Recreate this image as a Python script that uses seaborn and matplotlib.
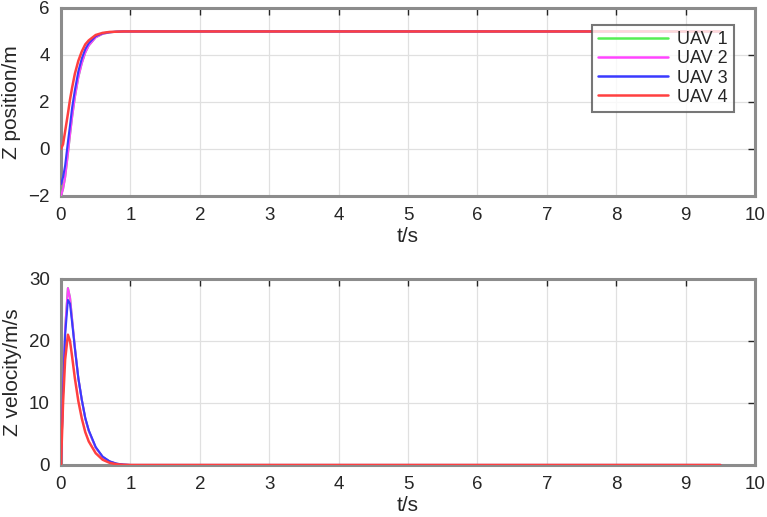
import matplotlib
matplotlib.use("Agg")
import matplotlib.pyplot as plt
import pandas as pd
import seaborn as sns

# time samples (s)
T = [0, 0.03, 0.06, 0.1, 0.13, 0.16, 0.2, 0.25, 0.3, 0.35, 0.4, 0.5, 0.6,
     0.7, 0.8, 0.9, 1.0, 1.5, 9.5]

# Z position (m)
Z1 = [-2, -1.7, -1.2, -0.2, 0.6, 1.35, 2.2, 3.05, 3.65, 4.1, 4.4, 4.75, 4.9,
      4.96, 4.99, 5.0, 5.0, 5.0, 5.0]
Z2 = [-2, -1.7, -1.2, -0.2, 0.6, 1.35, 2.2, 3.05, 3.65, 4.1, 4.4, 4.75, 4.9,
      4.96, 4.99, 5.0, 5.0, 5.0, 5.0]
Z3 = [-1.5, -1.2, -0.7, 0.3, 1.0, 1.75, 2.5, 3.3, 3.85, 4.25, 4.5, 4.8, 4.92,
      4.97, 4.99, 5.0, 5.0, 5.0, 5.0]
Z4 = [0, 0.2, 0.75, 1.5, 2.1, 2.6, 3.2, 3.75, 4.15, 4.45, 4.62, 4.85, 4.94,
      4.98, 4.99, 5.0, 5.0, 5.0, 5.0]

# Z velocity (m/s)
V1 = [0, 12, 22, 28.5, 27, 23.5, 19, 14, 10.5, 7.5, 5.5, 2.8, 1.3, 0.55,
      0.2, 0.05, 0, 0, 0]
V2 = [0, 12, 22, 28.5, 27, 23.5, 19, 14, 10.5, 7.5, 5.5, 2.8, 1.3, 0.55,
      0.2, 0.05, 0, 0, 0]
V3 = [0, 12, 21, 26.6, 26, 23, 18.8, 14, 10.5, 7.6, 5.6, 2.9, 1.35, 0.6,
      0.22, 0.06, 0, 0, 0]
V4 = [0, 10, 17, 21, 20, 17.5, 14, 10.3, 7.5, 5.3, 3.8, 1.9, 0.85, 0.35,
      0.12, 0.03, 0, 0, 0]

NAMES = ["UAV 1", "UAV 2", "UAV 3", "UAV 4"]
COLORS = ["#55ee55", "#ff44ff", "#3a3aff", "#ff4040"]

pos = pd.DataFrame([(t, z, n) for n, zs in zip(NAMES, [Z1, Z2, Z3, Z4])
                    for t, z in zip(T, zs)], columns=["t", "z", "uav"])
vel = pd.DataFrame([(t, v, n) for n, vs in zip(NAMES, [V1, V2, V3, V4])
                    for t, v in zip(T, vs)], columns=["t", "v", "uav"])

sns.set_style("white")
plt.rcParams["font.family"] = ["Liberation Sans", "DejaVu Sans"]

fig = plt.figure(figsize=(7.67, 5.17), dpi=100)
ax1 = fig.add_axes([0.0795, 0.621, 0.905, 0.3636])
ax2 = fig.add_axes([0.0795, 0.1006, 0.905, 0.36])

palette = dict(zip(NAMES, COLORS))
sns.lineplot(data=pos, x="t", y="z", hue="uav", palette=palette, ax=ax1,
             linewidth=1.8, sort=False)
sns.lineplot(data=vel, x="t", y="v", hue="uav", palette=palette, ax=ax2,
             linewidth=1.8, sort=False, legend=False)

# MATLAB-like look
for ax, ylim, yticks, ylabel in [(ax1, (-2, 6), [-2, 0, 2, 4, 6], "Z position/m"),
                                 (ax2, (0, 30), [0, 10, 20, 30], "Z velocity/m/s")]:
    ax.set_xlim(0, 10)
    ax.set_ylim(*ylim)
    ax.set_xticks(range(11))
    ax.set_yticks(yticks)
    ax.grid(True, color="#e0e0e0", linewidth=0.9)
    ax.set_axisbelow(True)
    for s in ax.spines.values():
        s.set_color("#8c8c8c")
        s.set_linewidth(2.2)
    # curves sit on top of the frame, like the MATLAB export;
    # the hidden ones a bit thinner so UAV 4 covers them where they overlap
    for i, ln in enumerate(ax.lines[:4]):
        ln.set_zorder(3)
        if i < 3:
            ln.set_linewidth(1.5)
    ax.tick_params(direction="in", length=5, width=1, colors="#262626",
                   top=True, right=True, labelsize=13.5, pad=8)
    ax.set_xlabel("t/s", fontsize=15, color="#262626", labelpad=2)
    ax.set_ylabel(ylabel, fontsize=15, color="#262626", labelpad=5)

leg = ax1.legend(loc="upper right", bbox_to_anchor=(0.97, 0.91), fontsize=13,
                 handlelength=3.9, frameon=True, fancybox=False,
                 borderpad=0.35, labelspacing=0.12, handletextpad=0.5,
                 borderaxespad=0)
leg.get_frame().set_edgecolor("#555555")
leg.get_frame().set_linewidth(1.5)
leg.set_zorder(5)
leg.set_title(None)

plt.savefig("out.png", dpi=100)
